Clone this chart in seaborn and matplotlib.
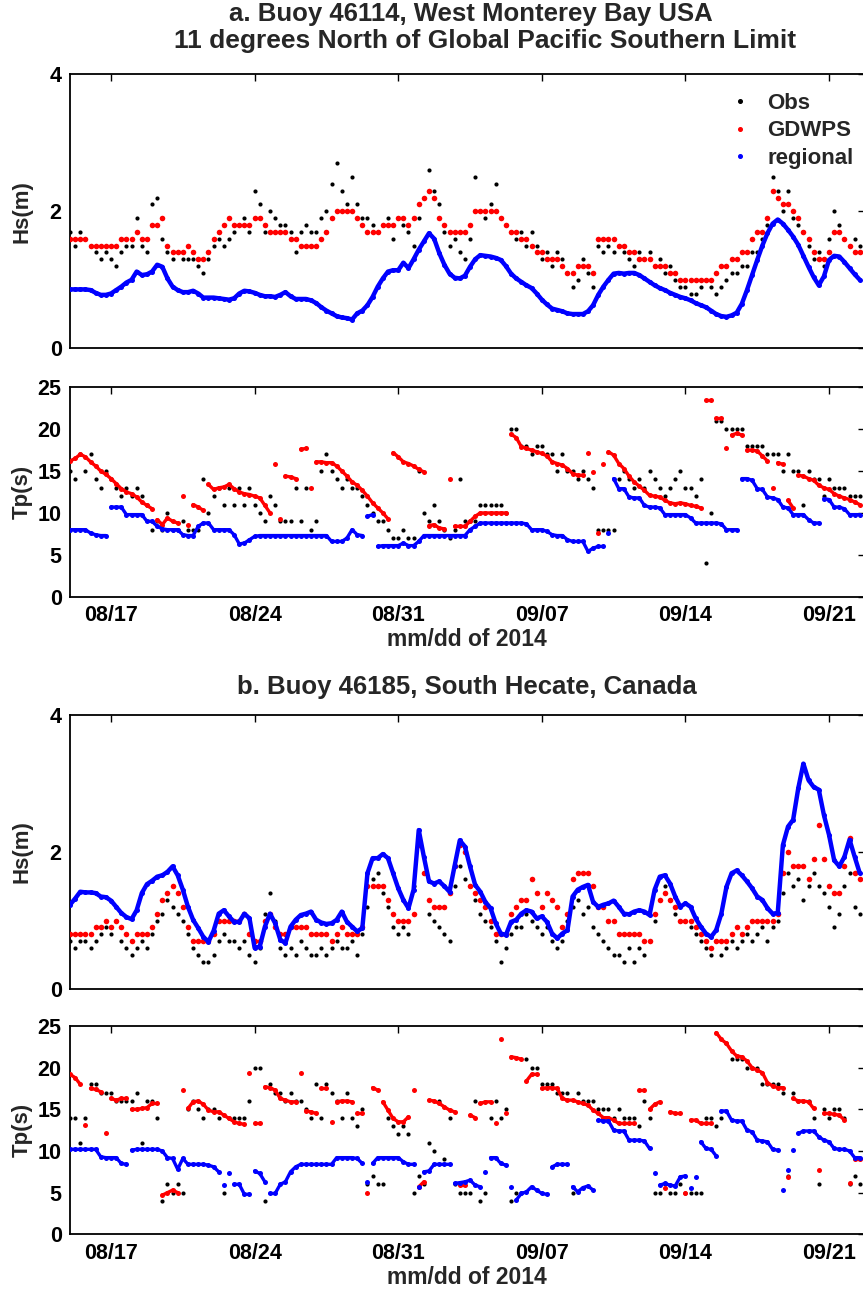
import numpy as np
import pandas as pd
import matplotlib
matplotlib.use("Agg")
import matplotlib.pyplot as plt
import matplotlib.dates as mdates
from matplotlib.lines import Line2D
import seaborn as sns

# ---------------- data (6-hourly samples from 2014-08-15 00:00) ----------------
start_time = "2014-08-15 00:00"
step_hours = 6

hs_a_obs = [1.7,1.5,1.7,1.6, 1.5,1.4,1.3,1.4, 1.3,1.2,1.4,1.5, 1.5,1.9,1.5,1.4,
            2.1,2.2,1.6,1.4, 1.3,1.4,1.3,1.3, 1.3,1.2,1.1,1.3, 1.5,1.6,1.5,1.6,
            1.7,1.8,1.9,1.7, 2.3,2.1,1.7,2.0, 1.9,1.8,1.8,1.7, 1.4,1.7,1.8,1.7,
            1.7,1.9,2.0,2.4, 2.7,2.3,2.1,2.5, 2.1,1.9,1.9,1.8, 1.7,1.8,1.9,1.6,
            1.9,1.8,1.7,1.5, 1.9,2.2,2.6,2.3, 2.1,1.7,1.5,1.6, 1.4,1.3,1.6,2.5,
            2.0,1.9,2.1,2.4, 1.9,1.8,1.7,1.6, 1.7,1.5,1.7,1.5, 1.3,1.4,1.2,1.4,
            1.3,1.1,0.9,1.0, 1.3,1.1,0.9,1.5, 1.4,1.5,1.4,1.5, 1.4,1.3,1.2,1.4,
            1.3,1.4,1.2,1.3, 1.1,1.2,1.0,0.9, 0.9,0.8,0.8,0.9, 1.0,0.9,0.8,0.9,
            1.0,1.1,1.1,1.2, 1.2,1.4,1.4,1.6, 1.8,2.5,2.3,2.0, 2.3,1.9,1.8,1.7,
            1.5,1.3,1.4,1.2, 1.6,2.0,1.8,1.6, 1.5,1.6,1.5]
hs_a_gdwps = [1.6,1.6,1.6,1.6, 1.5,1.5,1.5,1.5, 1.5,1.5,1.6,1.6, 1.6,1.7,1.6,1.6,
              1.8,1.8,1.9,1.5, 1.4,1.4,1.4,1.5, 1.4,1.3,1.3,1.4, 1.6,1.7,1.8,1.9,
              1.8,1.8,1.8,1.8, 1.9,1.9,1.8,1.7, 1.7,1.7,1.7,1.6, 1.6,1.5,1.5,1.5,
              1.5,1.6,1.7,1.9, 2.0,2.0,2.0,2.0, 1.9,1.8,1.7,1.7, 1.7,1.8,1.8,1.8,
              1.9,1.9,1.8,1.9, 2.1,2.2,2.3,2.2, 1.9,1.8,1.7,1.7, 1.7,1.7,1.8,2.0,
              2.0,2.0,2.0,2.0, 1.9,1.8,1.7,1.7, 1.6,1.6,1.5,1.4, 1.4,1.3,1.3,1.3,
              1.2,1.1,1.1,1.2, 1.2,1.2,1.1,1.6, 1.6,1.6,1.6,1.5, 1.5,1.4,1.4,1.3,
              1.3,1.3,1.2,1.2, 1.2,1.1,1.1,1.0, 1.0,1.0,1.0,1.0, 1.0,1.0,1.1,1.2,
              1.2,1.3,1.3,1.4, 1.4,1.6,1.7,1.7, 1.9,2.3,2.2,2.1, 2.1,2.0,1.9,1.7,
              1.6,1.4,1.3,1.3, 1.4,1.7,1.7,1.6, 1.5,1.4,1.4]
hs_a_regional = [0.86,0.86,0.86,0.86, 0.85,0.81,0.78,0.78, 0.80,0.85,0.90,0.96,
                 1.00,1.12,1.07,1.08, 1.12,1.22,1.19,1.02, 0.90,0.85,0.82,0.82,
                 0.84,0.80,0.74,0.74, 0.74,0.73,0.72,0.71, 0.73,0.80,0.84,0.83,
                 0.81,0.78,0.76,0.76, 0.75,0.78,0.82,0.76, 0.72,0.72,0.72,0.70,
                 0.66,0.60,0.55,0.51, 0.47,0.45,0.44,0.42, 0.51,0.55,0.63,0.75,
                 0.90,1.02,1.12,1.14, 1.14,1.25,1.17,1.30, 1.44,1.56,1.68,1.60,
                 1.39,1.22,1.09,1.03, 1.02,1.06,1.19,1.30, 1.36,1.35,1.34,1.32,
                 1.29,1.20,1.09,1.02, 0.97,0.92,0.88,0.80, 0.71,0.64,0.58,0.56,
                 0.54,0.51,0.50,0.50, 0.50,0.54,0.63,0.78, 0.90,1.00,1.09,1.10,
                 1.09,1.10,1.10,1.07, 1.02,0.97,0.92,0.88, 0.85,0.81,0.78,0.75,
                 0.73,0.70,0.66,0.63, 0.60,0.55,0.50,0.47, 0.46,0.48,0.52,0.65,
                 0.85,1.07,1.29,1.50, 1.68,1.82,1.88,1.82, 1.73,1.63,1.51,1.35,
                 1.19,1.04,0.92,1.05, 1.29,1.35,1.34,1.26, 1.17,1.08,1.00]

tp_a_obs = [15,14,17,15, 17,14,13,15, 14,13,12,13, 12,13,12,11, 8,9,8,10, 8,8,9,8,
            8,8,14,10, 12,13,11,13, 11,13,11,13, 11,10,9,12, 11,9,9,9, 13,9,13,8,
            9,15,17,15, 14,13,14,13, 13,12,11,10, 9,9,8,7, 7,8,7,7, 15,10,9,11,
            9,8,7,8, 14,9,9,9, 11,11,11,11, 11,10,20,20, 18,18,17,18, 18,17,17,15,
            17,15,15,14, 15,14,13,8, 8,8,8,14, 15,14,13,14, 13,15,14,13, 12,13,14,15,
            13,13,12,14, 4,10,21,21, 20,20,20,20, 18,18,18,18, 17,17,17,15,
            17,15,15,11, 15,14,14,12, 14,13,13,13, 12,12,12]
tp_a_gdwps = [16.2,16.5,17.0,16.7, 16.1,15.6,15.0,14.6, 14.1,13.5,12.9,12.5,
              12.3,11.9,11.3,10.9, 10.5,9.2,8.6,9.4, 9.0,8.8,12.0,8.6,
              11.0,10.7,10.3,13.4, 12.8,13.0,13.1,13.4, 12.9,12.5,12.3,12.2,
              12.0,11.8,10.9,10.0, 15.9,9.3,14.4,14.3, 14.1,17.6,17.7,13.0,
              16.1,16.1,16.0,16.0, 15.6,15.0,14.4,13.7, 13.3,12.7,12.0,11.2,
              10.6,10.0,9.3,17.2, 16.7,16.1,15.9,15.6, 15.2,14.9,8.5,8.6,
              8.2,8.1,14.1,8.4, 8.4,8.4,9.0,9.6, 10.0,10.0,10.0,10.0,
              10.0,10.0,19.4,19.0, 17.9,17.7,17.5,17.3, 17.1,16.8,16.1,15.9,
              15.7,15.3,14.7,14.5, 14.5,17.2,14.9,7.6, 15.9,17.3,16.9,15.9,
              15.3,14.4,13.7,13.2, 12.7,12.1,12.0,11.9, 11.5,11.2,11.1,11.2,
              11.1,10.9,10.8,10.6, 23.5,23.5,21.3,21.3, 17.7,19.3,19.5,19.3,
              17.5,17.5,17.4,16.8, 16.2,13.0,16.0,15.8, 11.5,10.6,14.5,14.4,
              14.1,13.9,13.3,13.0, 12.8,12.3,12.0,11.8, 11.6,11.3,11.0]
tp_a_regional = [8.0,8.0,8.0,8.0, 7.6,7.4,7.3,7.3, 10.7,10.7,10.7,9.8, 9.8,9.8,9.8,9.0,
                 9.0,8.4,8.1,8.0, 8.0,8.0,7.4,7.3, 7.3,8.4,8.8,8.8, 8.0,8.0,8.0,8.0,
                 7.4,6.3,6.4,6.8, 7.2,7.3,7.3,7.3, 7.3,7.3,7.3,7.3, 7.3,7.3,7.3,7.3,
                 7.3,7.3,7.3,6.6, 6.6,6.6,7.0,8.0, 7.4,7.3,9.6,9.8, 6.0,6.1,6.1,6.1,
                 6.1,6.4,6.1,6.1, 6.6,7.3,7.3,7.3, 7.3,7.3,7.3,7.3, 7.3,7.3,8.0,8.4,
                 8.8,8.8,8.8,8.8, 8.8,8.8,8.8,8.8, 8.8,8.7,8.0,8.0, 8.0,7.8,7.4,7.3,
                 7.3,6.8,6.6,6.6, 6.6,5.4,5.8,6.0, 6.0,7.6,14.1,12.9, 12.9,11.9,11.8,11.8,
                 10.9,10.7,10.7,10.6, 9.8,9.8,9.8,9.8, 9.8,9.4,8.8,8.8, 8.8,8.8,8.8,8.7,
                 8.0,8.0,8.0,14.1, 14.1,13.9,12.9,12.8, 11.9,11.8,11.6,10.7,
                 10.6,9.8,9.8,9.8, 9.2,8.8,8.8,11.7, 11.6,10.7,10.7,10.5, 9.8,9.8,9.8]

hs_b_obs = [0.7,0.6,0.7,0.7, 0.6,0.7,0.8,0.9, 0.8,1.0,0.7,0.6, 0.5,0.6,0.7,0.6,
            0.8,1.0,1.1,1.3, 1.2,1.1,1.0,0.8, 0.6,0.5,0.4,0.4, 0.5,0.7,0.8,0.7,
            0.7,0.6,0.7,0.5, 0.4,0.6,1.1,1.4, 1.0,0.6,0.5,0.6, 0.5,0.7,0.6,0.5,
            0.5,0.6,0.5,0.6, 0.7,0.6,0.6,0.7, 0.5,0.8,1.2,1.6, 1.7,1.4,1.2,0.9,
            0.8,0.9,0.8,1.5, 2.1,1.7,1.1,1.0, 0.9,0.8,0.7,1.5, 1.8,1.6,1.5,1.3,
            1.1,1.0,0.9,0.7, 0.4,0.6,0.8,0.9, 0.9,1.1,1.0,0.9, 0.8,0.9,0.7,0.6,
            0.7,1.0,1.2,1.3, 1.1,1.2,0.9,0.8, 0.7,0.6,0.5,0.5, 0.4,0.6,0.4,0.6,
            0.5,0.7,1.0,1.3, 1.5,1.3,1.1,1.0, 1.0,0.9,0.8,0.7, 0.6,0.5,0.7,0.5,
            0.6,0.7,0.6,0.7, 0.8,0.7,0.8,0.9, 0.7,0.9,1.0,1.4, 1.7,1.5,1.6,1.3,
            1.5,1.7,1.5,1.4, 1.2,0.9,1.1,1.5, 1.7,1.2,1.1]
hs_b_gdwps = [0.8,0.8,0.8,0.8, 0.8,0.9,0.9,1.0, 0.9,1.0,0.9,0.8, 0.7,0.8,0.8,0.8,
              0.9,1.1,1.3,1.4, 1.5,1.4,1.2,0.9, 0.7,0.7,0.7,0.7, 0.8,1.0,1.0,1.0,
              1.0,1.0,1.1,0.8, 0.7,0.7,1.0,1.1, 0.9,0.8,0.8,0.9, 0.9,0.9,0.9,0.8,
              0.8,0.8,0.8,0.7, 0.8,0.9,0.8,0.8, 0.8,0.9,1.5,1.5, 1.5,1.5,1.3,1.1,
              1.0,1.0,1.0,1.1, 2.1,1.7,1.3,1.2, 1.2,1.2,1.4,1.8, 2.1,2.0,1.5,1.4,
              1.3,1.2,1.0,0.8, 0.8,0.8,1.1,1.2, 1.3,1.3,1.6,1.4, 1.2,1.4,1.3,1.2,
              0.9,1.1,1.6,1.7, 1.7,1.7,1.5,1.2, 1.2,1.0,1.0,0.8, 0.8,0.8,0.8,0.8,
              0.7,0.7,1.1,1.3, 1.4,1.3,1.2,1.0, 1.0,1.0,0.9,0.8, 0.7,0.6,0.7,0.7,
              0.7,0.8,0.9,0.8, 0.9,1.0,1.0,1.0, 1.0,1.0,1.1,1.7, 2.0,1.8,1.8,1.8,
              1.6,1.9,2.4,1.9, 1.5,1.4,1.4,1.8, 2.2,1.7,1.6]
hs_b_regional = [1.23,1.32,1.42,1.41, 1.41,1.40,1.35,1.34, 1.29,1.20,1.11,1.05,
                 1.02,1.15,1.40,1.53, 1.58,1.64,1.66,1.71, 1.79,1.66,1.45,1.20,
                 1.01,0.89,0.76,0.69, 0.85,1.10,1.15,1.06, 0.98,0.98,1.10,1.03,
                 0.60,0.62,0.91,1.10, 0.96,0.72,0.67,0.91, 1.01,1.08,1.10,1.13,
                 1.01,0.97,0.95,0.96, 1.01,1.13,0.98,0.91, 0.84,0.89,1.69,1.91,
                 1.91,1.97,1.91,1.69, 1.47,1.30,1.18,1.45, 2.32,1.93,1.57,1.54,
                 1.57,1.50,1.42,1.80, 2.17,2.08,1.79,1.52, 1.42,1.27,1.18,0.96,
                 0.81,0.79,0.98,1.01, 1.10,1.15,1.13,1.03, 1.06,0.98,0.81,0.74,
                 0.81,0.86,1.35,1.45, 1.49,1.52,1.27,1.20, 1.23,1.25,1.29,1.20,
                 1.10,1.09,1.13,1.15, 1.13,1.08,1.45,1.64, 1.66,1.54,1.35,1.20,
                 1.25,1.20,1.03,0.91, 0.81,0.76,0.86,1.10, 1.49,1.69,1.73,1.66,
                 1.57,1.47,1.35,1.30, 1.18,1.10,1.11,2.10, 2.37,2.47,2.93,3.29,
                 3.05,2.95,2.91,2.54, 2.25,1.88,1.79,1.93, 2.18,1.93,1.69]

tp_b_obs = [14,14,11,14, 18,18,17,17, 17,16,16,16, 16,17,11,16, 16,14,4,6, 5,6,5,15,
            16,15,14,15, 15,14,5,14, 14,14,14,16, 20,20,4,18, 17,17,16,17, 16,16,15,14,
            18,14,18,17, 16,14,17,14, 13,15,6,7, 6,6,14,13, 12,13,12,5, 7,6,11,10,
            16,9,14,6, 5,5,5,16, 4,5,14,16, 14,15,4,5, 5,21,20,20, 18,18,18,17,
            17,17,5,17, 16,16,16,15, 15,15,14,15, 14,14,14,13, 16,14,5,5, 6,5,5,6,
            5,5,5,5, 14,14,13,14, 23,21,21,21, 20,20,20,18, 18,18,18,17,
            7,17,16,16, 16,14,6,15, 14,15,15,14, 6,7,6]
tp_b_gdwps = [19.2,18.8,18.0,13.1, 17.5,17.4,17.1,12.1, 16.3,16.1,16.3,16.3,
              15.0,15.0,15.1,15.2, 15.7,15.7,4.7,5.0, 5.3,5.0,17.3,15.1,
              15.9,16.0,15.6,14.9, 14.7,14.7,14.3,13.9, 13.5,13.3,13.2,19.3,
              13.3,13.3,17.7,17.6, 17.3,16.3,16.1,15.9, 15.9,19.3,14.8,14.7,
              14.5,17.6,17.6,13.5, 15.9,16.0,16.0,15.9, 14.5,14.5,4.9,17.6,
              17.3,15.9,14.9,13.9, 13.5,13.5,14.1,17.3, 5.7,6.3,16.1,16.0,
              15.7,15.3,14.9,14.7, 5.9,5.9,14.3,14.0, 15.7,15.9,15.9,13.3,
              23.4,14.5,21.3,21.2, 21.0,18.4,19.2,19.2, 17.5,17.6,17.6,17.5,
              16.3,16.1,16.1,15.9, 15.7,15.5,14.9,14.5, 14.0,14.0,13.7,13.3,
              13.3,13.3,13.3,17.3, 17.3,15.0,15.6,15.9, 5.5,14.7,14.5,14.5,
              5.0,13.7,13.7,13.3, 13.3,13.3,24.2,23.4, 22.9,22.0,21.4,21.3,
              20.8,20.0,19.7,19.4, 18.2,17.8,17.6,17.6, 6.9,16.3,16.0,16.0,
              15.9,15.1,7.7,14.5, 14.5,14.4,14.3,13.7, 6.1,9.0,9.0]
tp_b_regional = [10.2,10.2,10.2,10.2, 10.2,10.2,9.3,9.2, 9.2,9.2,8.5,8.4,
                 10.1,10.2,10.2,10.2, 10.2,10.2,10.0,9.2, 9.1,7.8,9.1,8.4,
                 8.4,8.4,8.4,8.3, 8.1,7.5,5.9,7.4, 6.0,6.0,4.8,4.8,
                 7.6,7.3,6.3,4.9, 4.9,6.0,6.3,7.5, 8.1,8.4,8.4,8.4,
                 8.4,8.4,8.4,8.4, 9.2,9.2,9.2,9.2, 9.1,8.5,6.3,8.5,
                 9.2,9.2,9.2,9.2, 9.2,8.7,8.4,8.4, 5.7,7.5,7.6,8.4,
                 8.4,8.4,8.4,6.1, 6.2,6.3,6.5,5.9, 5.7,7.5,9.2,9.2,
                 8.5,8.3,5.7,4.1, 4.9,5.1,5.7,5.3, 4.9,4.8,8.1,8.4,
                 8.4,8.4,5.7,5.1, 5.6,5.8,5.3,13.7, 13.6,13.6,12.5,12.4,
                 12.4,11.3,11.3,11.3, 11.2,10.3,7.3,5.9, 6.1,5.9,5.8,6.9,
                 7.0,5.5,6.9,11.1, 10.3,10.2,9.4,14.8, 14.8,13.7,13.6,13.6,
                 12.5,12.3,11.3,11.2, 11.1,10.2,10.1,5.3, 7.7,10.1,12.1,12.4,
                 12.4,12.4,11.7,11.3, 11.1,10.3,10.2,10.2, 10.0,9.2,9.2]

series_labels = ["Obs", "GDWPS", "regional"]
series_colors = ["black", "red", "blue"]
tick_dates = ["2014-08-17", "2014-08-24", "2014-08-31", "2014-09-07", "2014-09-14", "2014-09-21"]
x_limits = ["2014-08-15 00:00", "2014-09-22 17:30"]
title_a = ["a. Buoy 46114, West Monterey Bay USA",
           "11 degrees North of Global Pacific Southern Limit"]
title_b = "b. Buoy 46185, South Hecate, Canada"
x_label = "mm/dd of 2014"

# ---------------- styling ----------------
sns.set_theme(style="white")
plt.rcParams["font.family"] = ["Liberation Sans", "DejaVu Sans"]
plt.rcParams["font.weight"] = "bold"
plt.rcParams["axes.labelweight"] = "bold"


def times(vals):
    return pd.date_range(start_time, periods=len(vals), freq=f"{step_hours}h")


W, H = 863, 1290
fig = plt.figure(figsize=(W / 100, H / 100), dpi=100)


def axes_px(top, bottom, left=70, right=864.5):
    return fig.add_axes([left / W, 1 - bottom / H, (right - left) / W, (bottom - top) / H])


ax_a1 = axes_px(74.3, 348.3)
ax_a2 = axes_px(387.3, 596.7)
ax_b1 = axes_px(715.0, 989.0)
ax_b2 = axes_px(1026.0, 1234.3)


def model_series(ax, vals, color, jump, lw, z, size=13):
    """Dots for every sample, joined only inside runs without big jumps."""
    t = times(vals)
    v = np.asarray(vals, dtype=float)
    if jump is not None:
        seg = np.concatenate([[0], np.cumsum(np.abs(np.diff(v)) > jump)])
        df = pd.DataFrame({"t": t, "v": v, "seg": seg})
        sns.lineplot(data=df, x="t", y="v", units="seg", estimator=None, ax=ax,
                     color=color, lw=lw, zorder=z, legend=False)
    sns.scatterplot(x=t, y=v, ax=ax, color=color, s=size,
                    linewidth=0, zorder=z, legend=False)


def draw(ax, obs, gd, reg, hs):
    sns.scatterplot(x=times(obs), y=obs, ax=ax, color=series_colors[0], s=9,
                    linewidth=0, zorder=2)
    if hs:
        model_series(ax, gd, series_colors[1], None, 0, 3, size=16)
        model_series(ax, reg, series_colors[2], 10.0, 3.2, 4)
    else:
        model_series(ax, gd, series_colors[1], 1.3, 2.4, 3)
        model_series(ax, reg, series_colors[2], 1.3, 2.4, 4)
    ax.set_xlim(pd.Timestamp(x_limits[0]), pd.Timestamp(x_limits[1]))
    ax.set_xticks(pd.to_datetime(tick_dates))
    ax.xaxis.set_major_formatter(mdates.DateFormatter("%m/%d"))
    if hs:
        ax.set_ylim(0, 4)
        ax.set_yticks([0, 2, 4])
        ax.set_ylabel("Hs(m)", fontsize=16, fontweight="bold")
    else:
        ax.set_ylim(0, 25)
        ax.set_yticks([0, 5, 10, 15, 20, 25])
        ax.set_ylabel("Tp(s)", fontsize=16, fontweight="bold")
    ax.yaxis.set_label_coords(-0.047, 0.5)
    ax.set_xlabel("")
    ax.tick_params(direction="in", top=True, right=True, length=5, width=1,
                   labelsize=15.5, pad=6, colors="black")
    for lab in ax.get_xticklabels() + ax.get_yticklabels():
        lab.set_fontweight("bold")
    for sp in ax.spines.values():
        sp.set_color("black")
        sp.set_linewidth(1.3)
    ax.grid(False)


draw(ax_a1, hs_a_obs, hs_a_gdwps, hs_a_regional, True)
draw(ax_a2, tp_a_obs, tp_a_gdwps, tp_a_regional, False)
draw(ax_b1, hs_b_obs, hs_b_gdwps, hs_b_regional, True)
draw(ax_b2, tp_b_obs, tp_b_gdwps, tp_b_regional, False)

for ax in (ax_a1, ax_b1):
    ax.tick_params(labelbottom=False)

handles = [Line2D([], [], ls="none", marker="o", ms=2.6, color=c) for c in series_colors]
ax_a1.legend(handles, series_labels, loc="upper left", bbox_to_anchor=(0.82, 0.965),
             frameon=False, handlelength=0.9, handletextpad=0.75, labelspacing=0.3,
             borderaxespad=0, prop={"weight": "bold", "size": 16})

cx = (70 + 864) / 2 / W
fig.text(471 / W, 1 - 14 / H, title_a[0], ha="center", va="center", fontsize=18.5, fontweight="bold")
fig.text(485 / W, 1 - 41 / H, title_a[1], ha="center", va="center", fontsize=19, fontweight="bold")
fig.text(cx, 1 - 687 / H, title_b, ha="center", va="center", fontsize=18.5, fontweight="bold")
fig.text(cx, 1 - 640 / H, x_label, ha="center", va="center", fontsize=16.5, fontweight="bold")
fig.text(cx, 1 - 1278 / H, x_label, ha="center", va="center", fontsize=16.5, fontweight="bold")

fig.savefig("out.png", dpi=100, facecolor="white")
